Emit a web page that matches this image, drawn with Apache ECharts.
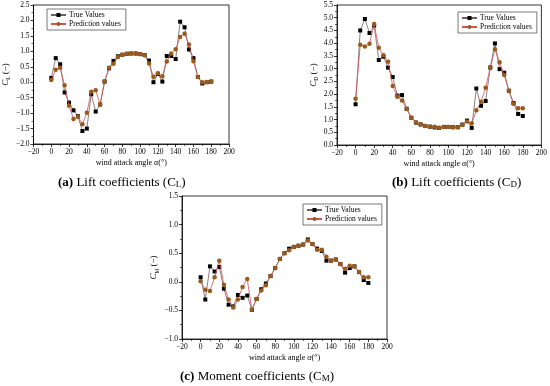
<!DOCTYPE html>
<html><head><meta charset="utf-8">
<script src="https://cdn.jsdelivr.net/npm/echarts@6/dist/echarts.min.js"></script>
<style>html,body{margin:0;padding:0;background:#fff}#c{width:550px;height:386px}</style>
</head><body><div id="c"></div>
<script>
const angles = [0,5,10,15,20,25,30,35,40,45,50,55,60,65,70,75,80,85,90,95,100,105,110,115,120,125,130,135,140,145,150,155,160,165,170,175,180];
const clTrue = [0.14,0.78,0.58,-0.33,-0.66,-0.91,-1.10,-1.58,-1.50,-0.39,-0.95,-0.72,0.02,0.45,0.69,0.84,0.89,0.92,0.93,0.93,0.91,0.88,0.70,0.00,0.27,0.02,0.85,0.85,0.75,1.96,1.78,1.06,0.78,0.17,-0.04,0.00,0.02];
const clPred = [0.07,0.40,0.47,-0.10,-0.76,-1.19,-1.12,-1.36,-0.99,-0.31,-0.26,-0.72,0.03,0.47,0.60,0.82,0.89,0.92,0.93,0.93,0.91,0.87,0.61,0.18,0.29,0.19,0.67,0.93,1.07,1.46,1.57,1.22,0.68,0.17,0.00,0.01,0.02];
const cdTrue = [1.60,4.50,4.95,4.40,4.69,3.34,3.47,3.04,2.67,1.94,1.96,1.42,1.07,0.88,0.81,0.75,0.72,0.69,0.67,0.71,0.71,0.70,0.70,0.80,0.96,0.67,2.22,1.54,1.73,3.04,3.99,2.98,2.84,2.13,1.65,1.22,1.14];
const cdPred = [1.82,3.94,3.87,3.98,4.75,3.82,3.53,3.27,2.32,1.90,1.75,1.42,1.07,0.88,0.81,0.75,0.72,0.72,0.68,0.71,0.71,0.70,0.70,0.80,0.92,0.85,1.37,1.70,2.25,3.05,3.76,3.25,2.75,2.13,1.62,1.44,1.44];
const cmTrue = [0.08,-0.31,0.27,0.18,0.26,-0.12,-0.40,-0.43,-0.23,-0.28,-0.24,-0.49,-0.30,-0.13,-0.03,0.10,0.24,0.40,0.50,0.58,0.61,0.63,0.65,0.74,0.66,0.58,0.54,0.37,0.37,0.39,0.31,0.16,0.24,0.27,0.17,0.03,-0.02];
const cmPred = [0.01,-0.14,-0.16,0.08,0.37,-0.05,-0.31,-0.45,-0.31,-0.09,0.05,-0.49,-0.30,-0.15,-0.06,0.10,0.24,0.40,0.50,0.55,0.61,0.63,0.65,0.72,0.66,0.56,0.56,0.44,0.37,0.39,0.31,0.23,0.28,0.27,0.17,0.08,0.08];
const legendNames = ['True Values','Prediction values'];

const FONT = 'Liberation Serif';
const pair = (a,b) => a.map((v,i)=>[v,b[i]]);
const minus = s => String(s).replace('-', '\u2212');

function xAxis(gi){
  return {type:'value', gridIndex:gi, min:-20, max:200, interval:20,
    name:'{t|wind attack angle }{i|\u03b1}{t|(\u00b0)}', nameLocation:'middle', nameGap:15,
    nameTextStyle:{fontFamily:FONT, fontSize:8, color:'#000', rich:{
      t:{fontFamily:FONT, fontSize:8}, i:{fontFamily:FONT, fontSize:8, fontStyle:'italic'}}},
    axisLine:{show:true, onZero:false, lineStyle:{color:'#000', width:0.8}},
    axisTick:{show:true, inside:false, length:3, lineStyle:{color:'#000', width:0.8}},
    minorTick:{show:true, splitNumber:2, length:2, lineStyle:{color:'#000', width:0.6}},
    splitLine:{show:false},
    axisLabel:{fontFamily:FONT, fontSize:7.5, color:'#000', margin:4, formatter:v=>minus(v)}};
}
function yAxis(gi,min,max,sub){
  return {type:'value', gridIndex:gi, min:min, max:max, interval:0.5,
    name:'{m|C}{s|'+sub+'}{n| (\u2212)}', nameLocation:'middle', nameGap:17, nameRotate:90,
    nameTextStyle:{fontFamily:FONT, color:'#000', rich:{
      m:{fontFamily:FONT, fontSize:9, fontStyle:'italic', lineHeight:13, verticalAlign:'middle'},
      s:{fontFamily:FONT, fontSize:5.5, lineHeight:13, verticalAlign:'bottom'},
      n:{fontFamily:FONT, fontSize:9, lineHeight:13, verticalAlign:'middle'}}},
    axisLine:{show:true, onZero:false, lineStyle:{color:'#000', width:0.8}},
    axisTick:{show:true, inside:false, length:3, lineStyle:{color:'#000', width:0.8}},
    minorTick:{show:true, splitNumber:2, length:2, lineStyle:{color:'#000', width:0.6}},
    splitLine:{show:false},
    axisLabel:{fontFamily:FONT, fontSize:7.5, color:'#000', margin:4, formatter:v=>minus(v.toFixed(1))}};
}
function seriesPair(gi, t, p){
  return [
    {name:legendNames[0], type:'line', xAxisIndex:gi, yAxisIndex:gi, data:pair(angles,t),
      symbol:'rect', symbolSize:4, itemStyle:{color:'#000'},
      lineStyle:{color:'#6e6060', width:0.8}, z:2, animation:false},
    {name:legendNames[1], type:'line', xAxisIndex:gi, yAxisIndex:gi, data:pair(angles,p),
      symbol:'circle', symbolSize:4.5, itemStyle:{color:'#9a5a1c'},
      lineStyle:{color:'#d65050', width:0.8}, z:3, animation:false}
  ];
}
function legend(left, top){
  return {data:legendNames, left:left, top:top, orient:'vertical', itemWidth:15, itemHeight:5, itemGap:1,
    padding:[2,5,2,3], borderColor:'#555', borderWidth:0.8, backgroundColor:'#fff',
    textStyle:{fontFamily:FONT, fontSize:7.5, color:'#000', padding:[0,0,0,-2]}, selectedMode:false};
}
function caption(x, y, tag, sub, text){
  return {type:'text', left:x, top:y, style:{
    text:'{b|('+tag+')}{n| '+text+' (C}{s|'+sub+'}{n|)}',
    rich:{
      b:{fontFamily:FONT, fontSize:13, fontWeight:'bold', verticalAlign:'bottom', lineHeight:15},
      n:{fontFamily:FONT, fontSize:13, verticalAlign:'bottom', lineHeight:15},
      s:{fontFamily:FONT, fontSize:9, verticalAlign:'bottom', lineHeight:13.5}
    }, fill:'#000'}};
}

const chart = echarts.init(document.getElementById('c'), null, {renderer:'canvas'});
chart.setOption({
  animation:false,
  backgroundColor:'#fff',
  grid:[
    {left:32, top:5, width:197, height:139, show:true, borderColor:'#000', borderWidth:0.8, containLabel:false},
    {left:337, top:5, width:205, height:140, show:true, borderColor:'#000', borderWidth:0.8, containLabel:false},
    {left:182, top:196, width:205, height:143, show:true, borderColor:'#000', borderWidth:0.8, containLabel:false}
  ],
  xAxis:[xAxis(0), xAxis(1), xAxis(2)],
  yAxis:[yAxis(0,-2,2.5,'L'), yAxis(1,0,5.5,'D'), yAxis(2,-1,1.5,'M')],
  legend:[legend(47,9), legend(458,12), legend(303,204)],
  series:[].concat(seriesPair(0,clTrue,clPred), seriesPair(1,cdTrue,cdPred), seriesPair(2,cmTrue,cmPred)),
  graphic:[
    caption(58, 176, 'a', 'L', 'Lift coefficients'),
    caption(392, 176, 'b', 'D', 'Lift coefficients'),
    caption(180, 370, 'c', 'M', 'Moment coefficients')
  ]
});
</script>
</body></html>
